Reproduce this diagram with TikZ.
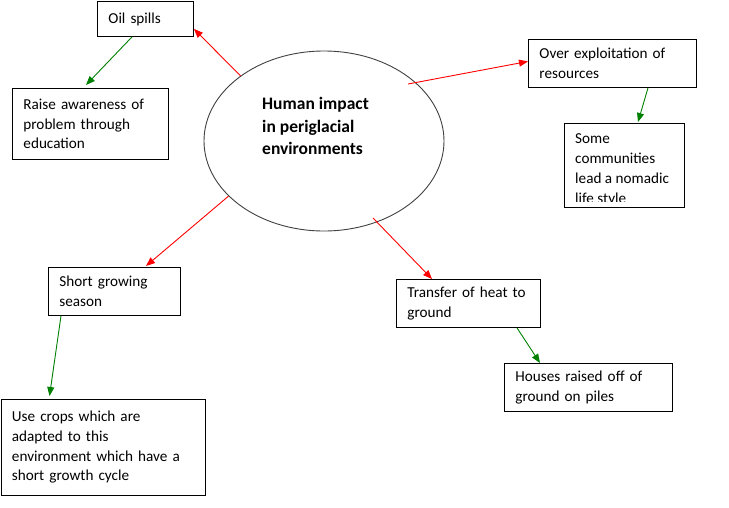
\documentclass[tikz,border=0pt]{standalone}
\usepackage{fontspec}
\setmainfont{Carlito}
\usetikzlibrary{shapes.geometric,arrows.meta,calc}
\begin{document}
\begin{tikzpicture}[x=1pt,y=-1pt,
  box/.style={draw=black, line width=0.9pt, anchor=north west, inner xsep=11pt, inner ysep=0pt, align=left, font=\fontsize{15.2pt}{19.7pt}\selectfont},
  txt/.style={inner sep=0pt, align=left, font=\fontsize{15.2pt}{19.7pt}\selectfont},
  hub/.style={ellipse, draw=black!75, line width=0.9pt, minimum width=240pt, minimum height=180pt, inner sep=0pt},
  hubtxt/.style={inner sep=0pt, align=left, font=\bfseries\fontsize{17.5pt}{22.7pt}\selectfont},
  redarr/.style={draw=red, line width=0.9pt, -{Triangle[length=9pt,width=7pt]}},
  greenarr/.style={draw=green!50!black, line width=0.9pt, -{Triangle[length=9pt,width=7pt]}}
]
\useasboundingbox (0,0) rectangle (729,507);

\node[hub] (hub) at (324,141) {};
\node[hubtxt, anchor=west] (hubt) at (262,126) {Human impact\\in periglacial\\environments};

\node[box, text width=74pt, minimum height=35pt] (oil) at (97,1) {Oil spills};
\node[box, text width=134pt, minimum height=71pt] (raise) at (12,88) {Raise awareness of\\problem through\\education};
\node[box, text width=146pt, minimum height=48pt] (over) at (528,39) {Over exploitation of\\resources};
\node[box, text width=98pt, minimum height=84pt] (some) at (564,123) {};
\begin{scope}
  \clip (some.north west) rectangle ($(some.south east)+(0,-6)$);
  \node[txt, anchor=base west] (somet) at ($(some.north west)+(11,80)$) {Some\\communities\\lead a nomadic\\life style};
\end{scope}
\node[box, text width=110pt, minimum height=48pt] (short) at (48,267) {Short growing\\season};
\node[box, text width=182pt, minimum height=96pt] (use) at (0.5,399) {Use crops which are\\adapted to this\\environment which have a\\short growth cycle};
\node[box, text width=122pt, minimum height=48pt] (transfer) at (396,279) {Transfer of heat to\\ground};
\node[box, text width=146pt, minimum height=48pt] (houses) at (504,363) {Houses raised off of\\ground on piles};

\draw[redarr] (hub.142) -- ($(oil.south east)+(0,-8)$);
\draw[redarr] ($(hub.center)+(84,-57)$) -- ($(over.west)+(0,-2)$);
\draw[redarr] (hub.210) -- ($(short.north west)+(98,-1)$);
\draw[redarr] ($(hub.center)+(49,77)$) -- ($(transfer.north west)+(36,0)$);

\draw[greenarr] ($(oil.south west)+(35,0)$) -- ($(raise.north west)+(74,-3)$);
\draw[greenarr] ($(over.south west)+(120,0)$) -- ($(some.north west)+(74,-1)$);
\draw[greenarr] ($(short.south west)+(13,0)$) -- ($(use.north west)+(49,-3)$);
\draw[greenarr] ($(transfer.south west)+(121,0)$) -- ($(houses.north west)+(36,0)$);
\end{tikzpicture}
\end{document}
